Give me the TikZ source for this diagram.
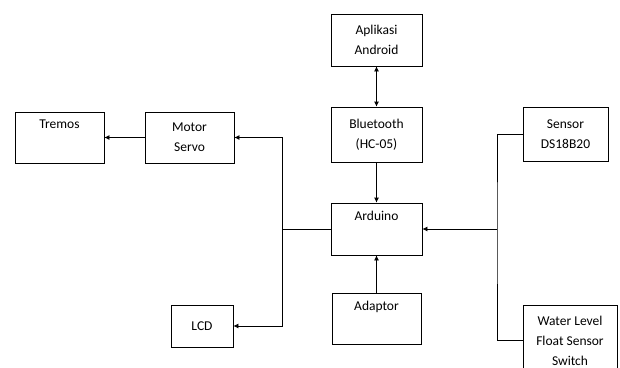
\documentclass[tikz,border=0pt]{standalone}
\usepackage{fontspec}
\setmainfont{Carlito}
\usetikzlibrary{arrows.meta,positioning,calc}

\begin{document}
\begin{tikzpicture}[x=1pt, y=-1pt, >={Latex[length=5pt,width=5pt]}, line width=0.8pt,
  blok/.style={draw,rectangle,align=center,inner sep=2pt,font=\fontsize{13.5}{20}\selectfont}]
\clip (0,0) rectangle (620,367);
\node[blok,minimum width=91pt,minimum height=52pt] (app)    at (376.5,40)  {Aplikasi\\ Android};
\node[blok,minimum width=91pt,minimum height=55pt] (bt)     at (376.5,134.5) {Bluetooth\\ (HC-05)};
\node[blok,minimum width=91pt,minimum height=52pt] (ard)    at (376.5,229) {Arduino\\ \strut};
\node[blok,minimum width=89pt,minimum height=51pt] (adp)    at (376.5,318.5) {Adaptor\\ \strut};
\node[blok,minimum width=85pt,minimum height=54pt] (sensor) at (565.5,134) {Sensor\\ DS18B20};
\node[blok,minimum width=94pt,minimum height=70pt,anchor=north] (wl) at (570,305) {Water Level\\ Float Sensor\\ Switch};
\node[blok,minimum width=89pt,minimum height=51pt] (tremos) at (59.5,137.5) {Tremos\\ \strut};
\node[blok,minimum width=89pt,minimum height=51pt] (servo)  at (189.5,137.5) {Motor\\ Servo};
\node[blok,minimum width=62pt,minimum height=42pt] (lcd)    at (202,326) {LCD};
\coordinate (rj) at (497,229);
\coordinate (lj) at (282,229);
\draw[<->] (app) -- (bt);
\draw[->] (bt) -- (ard);
\draw[->] (adp) -- (ard);
\draw (sensor.west) -| (rj) |- (wl.west);
\draw[->] (rj) -- (ard.east);
\draw (ard.west) -- (lj);
\draw[->] (lj) |- (servo.east);
\draw[->] (lj) |- (lcd.east);
\draw[->] (servo) -- (tremos);
\end{tikzpicture}
\end{document}
